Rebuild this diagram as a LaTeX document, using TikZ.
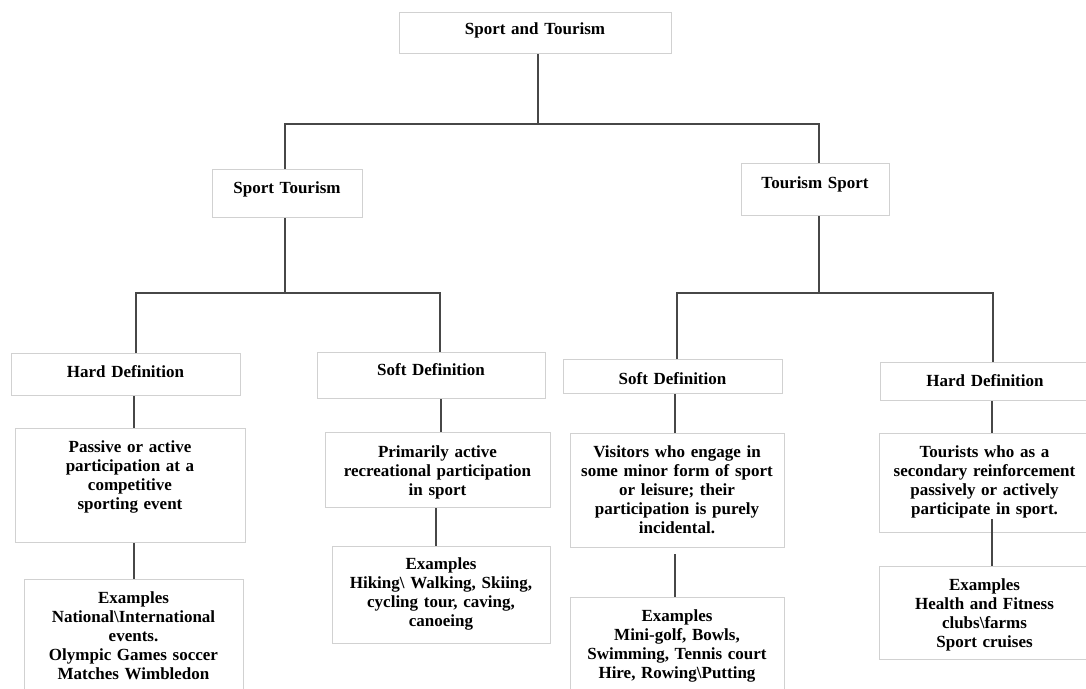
\documentclass[tikz,border=0pt]{standalone}
\usepackage{fontspec}
\setmainfont{Liberation Serif}
\tikzset{
  box/.style={draw=black!18, line width=1pt, fill=white, anchor=north, inner xsep=0pt, inner ysep=0pt,
    align=center, font=\fontsize{17}{19}\selectfont\bfseries},
  conn/.style={draw=black!72, line width=1.4pt}
}
\newcommand\mkbox[7]{%
  \pgfmathsetmacro\bw{#4-#2}\pgfmathsetmacro\bcx{(#2+#4)/2}%
  \pgfmathsetmacro\bh{#6-#3}\pgfmathsetmacro\bd{#5-#6}%
  \node[box, text width=\bw pt, text height=\bh pt, text depth=\bd pt] (#1) at (\bcx,#3) {#7};}
\begin{document}
\begin{tikzpicture}[x=1pt,y=-1pt]
\useasboundingbox (0,0) rectangle (1086,688);
\fill[white] (0,0) rectangle (1086,688);
% boxes
\mkbox{root}{399}{12}{671}{53}{34}{Sport and Tourism}
\mkbox{st}{212}{169}{362}{217}{193}{Sport Tourism}
\mkbox{ts}{741}{163}{889}{215}{188}{Tourism Sport}
\mkbox{hdl}{11}{353}{240}{395}{377}{Hard Definition}
\mkbox{sdl}{317}{352}{545}{398}{375}{Soft Definition}
\mkbox{sdr}{563}{359}{782}{393}{384}{Soft Definition}
\mkbox{hdr}{880}{362}{1090}{400}{386}{Hard Definition}
\mkbox{passive}{15}{428}{245}{542}{452}{Passive or active\\participation at a\\competitive\\sporting event}
\mkbox{prim}{325}{432}{550}{507}{457}{Primarily active\\recreational participation\\in sport}
\mkbox{exhl}{24}{579}{243}{692}{603}{Examples\\National\textbackslash International\\events.\\Olympic Games soccer\\Matches Wimbledon}
\mkbox{exsl}{332}{546}{550}{643}{569}{Examples\\Hiking\textbackslash{} Walking, Skiing,\\cycling tour, caving,\\canoeing}
\mkbox{vis}{570}{433}{784}{547}{457}{Visitors who engage in\\some minor form of sport\\or leisure; their\\participation is purely\\incidental.}
\mkbox{tour}{879}{433}{1090}{532}{457}{Tourists who as a\\secondary reinforcement\\passively or actively\\participate in sport.}
\mkbox{exsr}{570}{597}{784}{692}{621}{Examples\\Mini-golf, Bowls,\\Swimming, Tennis court\\Hire, Rowing\textbackslash Putting}
\mkbox{exhr}{879}{566}{1090}{659}{590}{Examples\\Health and Fitness\\clubs\textbackslash farms\\Sport cruises}
% junction coordinates
\coordinate (j0) at (538,124);
\coordinate (j1) at (286,293);
\coordinate (j2) at (819,293);
% level 1
\coordinate (rootb) at ([xshift=3pt]root.south);
\coordinate (stn) at ([xshift=-2pt]st.north);
\coordinate (tsn) at ([xshift=4pt]ts.north);
\draw[conn] (rootb) -- (rootb |- j0);
\draw[conn] (stn) -- (stn |- j0) -- (tsn |- j0) -- (tsn);
% level 2 left
\coordinate (stb) at ([xshift=-2pt]st.south);
\coordinate (hdln) at ([xshift=10.5pt]hdl.north);
\coordinate (sdln) at ([xshift=9pt]sdl.north);
\draw[conn] (stb) -- (stb |- j1);
\draw[conn] (hdln) -- (hdln |- j1) -- (sdln |- j1) -- (sdln);
% level 2 right
\coordinate (tsb) at ([xshift=4pt]ts.south);
\coordinate (sdrn) at ([xshift=4.5pt]sdr.north);
\coordinate (hdrn) at ([xshift=8pt]hdr.north);
\draw[conn] (tsb) -- (tsb |- j2);
\draw[conn] (sdrn) -- (sdrn |- j2) -- (hdrn |- j2) -- (hdrn);
% level 3
\coordinate (a1) at ([xshift=8.5pt]hdl.south);
\draw[conn] (a1) -- (a1 |- passive.north);
\coordinate (a2) at ([xshift=4pt]passive.south);
\draw[conn] (a2) -- (a2 |- exhl.north);
\coordinate (b1) at ([xshift=10pt]sdl.south);
\draw[conn] (b1) -- (b1 |- prim.north);
\coordinate (b2) at ([xshift=-1.5pt]prim.south);
\draw[conn] (b2) -- (b2 |- exsl.north);
\coordinate (c1) at ([xshift=2.5pt]sdr.south);
\draw[conn] (c1) -- (c1 |- vis.north);
\coordinate (c2) at ([xshift=-2pt,yshift=-6pt]vis.south);
\draw[conn] (c2) -- (c2 |- exsr.north);
\coordinate (d1) at ([xshift=7pt]hdr.south);
\draw[conn] (d1) -- (d1 |- tour.north);
\coordinate (d2) at ([xshift=7.5pt,yshift=14pt]tour.south);
\draw[conn] (d2) -- (d2 |- exhr.north);
\end{tikzpicture}
\end{document}
